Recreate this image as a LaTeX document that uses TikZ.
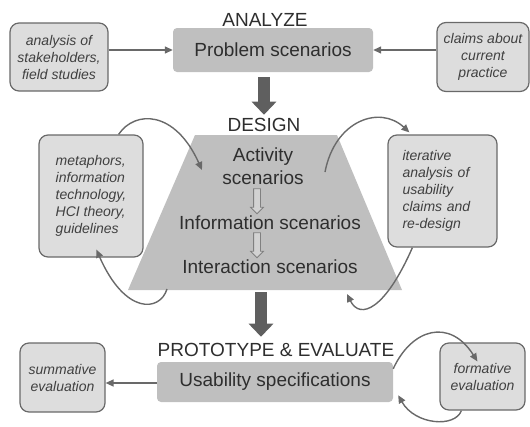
\documentclass[tikz,border=0pt]{standalone}
\usepackage{fontspec}
\setmainfont{Liberation Sans}
\usetikzlibrary{arrows.meta,shapes.arrows}
\definecolor{boxgray}{RGB}{191,191,191}
\definecolor{notegray}{RGB}{221,221,221}
\definecolor{linegray}{RGB}{105,105,105}
\definecolor{flowgray}{RGB}{95,95,95}
\begin{document}
\begin{tikzpicture}[x=1pt,y=-1pt]
        \tikzstyle{phase}=[font=\fontsize{19}{23}\selectfont, text=black!82]
        \tikzstyle{scen}=[fill=boxgray, rounded corners=4pt, font=\fontsize{19}{23}\selectfont, text=black!82]
        \tikzstyle{note}=[draw=linegray, fill=notegray, line width=1.2pt, rounded corners=9pt, inner sep=0pt, font=\fontsize{14}{17}\selectfont\itshape, text=black!75]
        \tikzstyle{link}=[draw=linegray, line width=1.4pt, -{Triangle[width=7pt,length=8pt]}]
        \tikzstyle{flow}=[draw=flowgray, line width=12pt, -{Triangle[width=24pt,length=13pt]}]
        \tikzstyle{refine}=[single arrow, shape border rotate=270, draw=gray, fill=boxgray!70!white, line width=0.8pt, inner sep=3pt, single arrow head extend=3pt, minimum height=25pt]
        \useasboundingbox (0,0) rectangle (530,426);
        \node[phase] (analyze) at (265,20) {ANALYZE};
        \node[scen, minimum width=200pt, minimum height=44pt] (prob) at (273,50) {Problem scenarios};
        \node[note, align=center, minimum width=98pt, minimum height=68pt] (stake) at (59,57) {analysis of\\stakeholders,\\field studies};
        \node[note, align=center, minimum width=92pt, minimum height=69pt] (claims) at (483,57) {claims about\\current\\practice};
        \draw[link] (stake.east |- prob) -- (prob.west);
        \draw[link] (claims.west |- prob) -- (prob.east);
        \node[phase] (design) at (264,125) {DESIGN};
        \draw[flow, shorten <=5pt] (design.north |- prob.south) -- (design.north);
        \coordinate (trap-nw) at (195,135);
        \coordinate (trap-ne) at (337,135);
        \coordinate (trap-se) at (402,290);
        \coordinate (trap-sw) at (128,290);
        \fill[boxgray] (trap-nw) -- (trap-ne) -- (trap-se) -- (trap-sw) -- cycle;
        \node[phase, align=center] (act) at (263,166) {Activity\\scenarios};
        \node[phase] (info) at (270,223) {Information scenarios};
        \node[phase] (inter) at (270,267) {Interaction scenarios};
        \node[refine] (r1) at (257,199.5) {};
        \node[refine] (r2) at (257,243.5) {};
        \node[note, align=left, minimum width=104pt, minimum height=122pt] (meta) at (91,196) {metaphors,\\information\\technology,\\HCI theory,\\guidelines};
        \node[note, align=left, text width=80pt, minimum width=109pt, minimum height=112pt] (iter) at (442.5,191) {iterative\\analysis of\\usability\\claims and\\re-design};
        \coordinate (into-act) at (202,170);
        \coordinate (from-trap-sw) at (167,289);
        \coordinate (from-act) at (325,172);
        \coordinate (into-trap-se) at (347,294);
        \draw[link] ([xshift=-25pt]meta.north east) .. controls (135,110) and (175,110) .. (into-act);
        \draw[link] (from-trap-sw) .. controls (160,312) and (125,315) .. ([xshift=58pt,yshift=8pt]meta.south west);
        \draw[link] (from-act) .. controls (335,120) and (380,105) .. ([xshift=22pt,yshift=2pt]iter.north west);
        \draw[link] ([xshift=25pt]iter.south west) .. controls (385,310) and (360,320) .. (into-trap-se);
        \coordinate (trap-s) at (261,292);
        \node[phase] (proto) at (276,350) {PROTOTYPE \& EVALUATE};
        \draw[flow, shorten >=3pt] (trap-s) -- (proto.north -| trap-s);
        \node[scen, minimum width=236pt, minimum height=40pt] (usab) at (275,382) {Usability specifications};
        \node[note, align=center, minimum width=85pt, minimum height=69pt] (summ) at (62.5,377.5) {summative\\evaluation};
        \node[note, align=center, minimum width=85pt, minimum height=67pt] (form) at (482.5,376.5) {formative\\evaluation};
        \draw[link] (usab.west |- 0,383) -- (summ.east |- 0,383);
        \draw[link] ([yshift=-7pt]usab.north east) .. controls (412,328) and (450,318) .. ([xshift=38pt,yshift=-19pt]form.north west);
        \draw[link] ([xshift=22pt]form.south west) .. controls (455,428) and (415,425) .. ([xshift=5pt,yshift=7pt]usab.south east);
\end{tikzpicture}
\end{document}
